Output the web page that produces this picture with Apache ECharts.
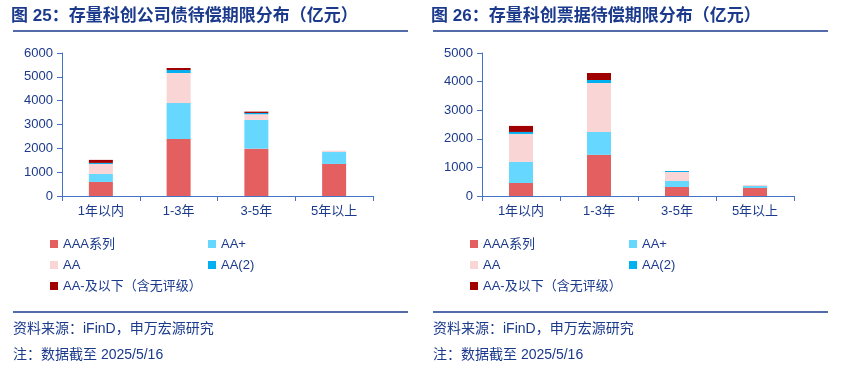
<!DOCTYPE html>
<html>
<head>
<meta charset="utf-8">
<script src="https://cdn.jsdelivr.net/npm/echarts@6/dist/echarts.min.js"></script>
<style>
  html, body { margin: 0; padding: 0; background: #fff; }
  #chart { width: 850px; height: 375px; }
</style>
</head>
<body>
<div id="chart"></div>
<script>
  // 期限分类
  var categories = ["1年以内", "1-3年", "3-5年", "5年以上"];
  var seriesNames = ["AAA系列", "AA+", "AA", "AA(2)", "AA-及以下（含无评级）"];

  // 图25：存量科创公司债（亿元）
  var bondAAA = [590, 2390, 1985, 1345];
  var bondAAp = [335, 1510, 1205, 500];
  var bondAA = [420, 1260, 240, 55];
  var bondAA2 = [45, 125, 55, 0];
  var bondAAm = [125, 85, 55, 0];

  // 图26：存量科创票据（亿元）
  var billAAA = [455, 1440, 315, 280];
  var billAAp = [735, 800, 210, 70];
  var billAA = [980, 1710, 315, 35];
  var billAA2 = [70, 105, 35, 0];
  var billAAm = [210, 245, 0, 0];

  var leftTicks = { max: 6000, interval: 1000 };
  var rightTicks = { max: 5000, interval: 1000 };

  var colors = ["#E46060", "#66D7FF", "#F9D5D6", "#00B0F0", "#A00000"];
  var navy = "#1B3A8C";
  var axisBlue = "#4472C4";
  var font = "'Liberation Sans', Arial, 'Noto Sans CJK SC', sans-serif";

  var myChart = echarts.init(document.getElementById("chart"));

  function makeX(idx) {
    return {
      type: "category",
      gridIndex: idx,
      data: categories,
      axisLine: { lineStyle: { color: axisBlue, width: 1 } },
      axisTick: { show: true, length: 5, lineStyle: { color: axisBlue } },
      axisLabel: { color: navy, fontSize: 13, fontFamily: font, margin: 9 }
    };
  }
  function makeY(idx, t) {
    return {
      type: "value",
      gridIndex: idx,
      min: 0,
      max: t.max,
      interval: t.interval,
      axisLine: { show: true, lineStyle: { color: axisBlue, width: 1 } },
      axisTick: { show: true, length: 5, lineStyle: { color: axisBlue } },
      splitLine: { show: false },
      axisLabel: {
        color: navy, fontSize: 13, fontFamily: font, margin: 9,
        formatter: function (v) { return String(v); }
      }
    };
  }

  var leftData = [bondAAA, bondAAp, bondAA, bondAA2, bondAAm];
  var rightData = [billAAA, billAAp, billAA, billAA2, billAAm];
  var series = [];
  seriesNames.forEach(function (name, i) {
    series.push({
      name: name, type: "bar", stack: "left", xAxisIndex: 0, yAxisIndex: 0,
      barWidth: 24, itemStyle: { color: colors[i] }, data: leftData[i]
    });
    series.push({
      name: name, type: "bar", stack: "right", xAxisIndex: 1, yAxisIndex: 1,
      barWidth: 24, itemStyle: { color: colors[i] }, data: rightData[i]
    });
  });

  // 图例：每张图两列三行
  var legendPos = [[0, 0], [1, 0], [0, 1], [1, 1], [0, 2]];
  var legends = [];
  [[50, 208], [470, 629]].forEach(function (cols) {
    seriesNames.forEach(function (name, i) {
      legends.push({
        data: [name],
        left: cols[legendPos[i][0]],
        top: 237 + legendPos[i][1] * 21,
        padding: 0,
        icon: "rect",
        itemWidth: 8,
        itemHeight: 8,
        selectedMode: false,
        textStyle: { color: navy, fontSize: 13, fontFamily: font, lineHeight: 14 }
      });
    });
  });

  function panelGraphics(x0, x1, title) {
    return [
      { type: "text", left: x0, top: 8,
        style: { text: title, fill: navy, font: "bold 17px " + font } },
      { type: "line", shape: { x1: x0 + 2, y1: 31, x2: x1, y2: 31 },
        style: { stroke: navy, lineWidth: 1.5 } },
      { type: "line", shape: { x1: x0 + 2, y1: 312, x2: x1, y2: 312 },
        style: { stroke: navy, lineWidth: 1.5 } },
      { type: "text", left: x0 + 2, top: 322,
        style: { text: "资料来源：iFinD，申万宏源研究", fill: navy, font: "14px " + font } },
      { type: "text", left: x0 + 2, top: 348,
        style: { text: "注：数据截至 2025/5/16", fill: navy, font: "14px " + font } }
    ];
  }

  var option = {
    animation: false,
    textStyle: { fontFamily: font },
    grid: [
      { left: 62, right: 477, top: 53, bottom: 179 },
      { left: 482, right: 56, top: 53, bottom: 179 }
    ],
    xAxis: [makeX(0), makeX(1)],
    yAxis: [makeY(0, leftTicks), makeY(1, rightTicks)],
    legend: legends,
    graphic: panelGraphics(11, 408, "图 25：存量科创公司债待偿期限分布（亿元）")
      .concat(panelGraphics(431, 828, "图 26：存量科创票据待偿期限分布（亿元）")),
    series: series
  };

  myChart.setOption(option);
  window.addEventListener("resize", function () {
    myChart.resize();
  });
</script>
</body>
</html>
